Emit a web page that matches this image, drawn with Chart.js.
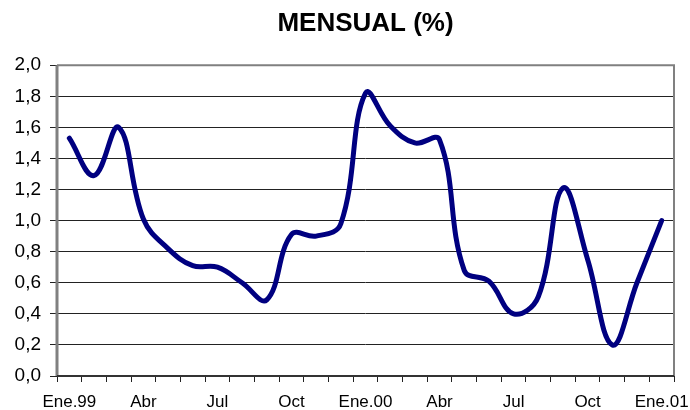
<!DOCTYPE html>
<html>
<head>
<meta charset="utf-8">
<script src="https://cdn.jsdelivr.net/npm/chart.js@4/dist/chart.umd.min.js"></script>
<style>
html,body{margin:0;padding:0;background:#fff;}
#wrap{width:690px;height:410px;}
</style>
</head>
<body>
<div id="wrap"><canvas id="c" width="690" height="410"></canvas></div>
<script>
const months = ['Ene.99','Feb','Mar','Abr','May','Jun','Jul','Ago','Sep','Oct','Nov','Dic',
                'Ene.00','Feb','Mar','Abr','May','Jun','Jul','Ago','Sep','Oct','Nov','Dic','Ene.01'];
const mensual = [1.53,1.29,1.60,1.01,0.82,0.71,0.70,0.60,0.49,0.91,0.90,0.98,
                 1.82,1.61,1.50,1.52,0.68,0.61,0.40,0.51,1.21,0.75,0.20,0.60,1.00];
const titleText = 'MENSUAL (%)';

const borderPlugin = {
  id: 'plotBorder',
  afterDatasetsDraw(chart) {
    const {ctx, chartArea: a} = chart;
    ctx.save();
    ctx.strokeStyle = '#808080';
    ctx.lineWidth = 2;
    ctx.beginPath();
    ctx.moveTo(a.left, a.top);
    ctx.lineTo(a.right, a.top);
    ctx.lineTo(a.right, a.bottom);
    ctx.stroke();
    ctx.lineWidth = 3;
    ctx.beginPath();
    ctx.moveTo(a.left, a.top);
    ctx.lineTo(a.left, a.bottom);
    ctx.stroke();
    ctx.strokeStyle = '#333';
    ctx.lineWidth = 2;
    ctx.beginPath();
    ctx.moveTo(a.left, a.bottom);
    ctx.lineTo(a.right, a.bottom);
    ctx.stroke();
    ctx.restore();
  }
};

new Chart(document.getElementById('c'), {
  type: 'line',
  data: {
    labels: months,
    datasets: [{
      data: mensual,
      borderColor: '#000080',
      borderWidth: 5,
      borderCapStyle: 'round',
      borderJoinStyle: 'round',
      pointRadius: 0,
      tension: 0.4,
      fill: false
    }]
  },
  options: {
    responsive: false,
    animation: false,
    devicePixelRatio: 1,
    layout: { padding: { left: 0, right: 16, top: 0, bottom: 0 } },
    plugins: {
      legend: { display: false },
      tooltip: { enabled: false },
      title: {
        display: true,
        text: titleText,
        fullSize: false,
        color: '#000',
        font: { family: 'Liberation Sans, Arial, sans-serif', size: 26, weight: 'bold', lineHeight: 1.2 },
        padding: { top: 8, bottom: 26 }
      }
    },
    scales: {
      x: {
        offset: true,
        grid: { display: true, drawOnChartArea: false, drawTicks: true, tickLength: 6, offset: true, color: '#222', lineWidth: 1 },
        border: { display: false },
        ticks: {
          autoSkip: false,
          maxRotation: 0,
          padding: 10,
          color: '#000',
          font: { family: 'Liberation Sans, Arial, sans-serif', size: 17 },
          callback: (v, i) => (i % 3 === 0 ? months[i] : '')
        },
        afterFit: (s) => { s.height = 34; s.paddingRight = 0; s.paddingLeft = 0; }
      },
      y: {
        min: 0,
        max: 2,
        grid: { color: '#222', lineWidth: 1, tickLength: 7, drawTicks: true },
        border: { display: false },
        ticks: {
          stepSize: 0.2,
          padding: 9,
          color: '#000',
          font: { family: 'Liberation Sans, Arial, sans-serif', size: 19 },
          callback: (v) => v.toFixed(1).replace('.', ',')
        },
        afterFit: (s) => { s.width = 57; }
      }
    }
  },
  plugins: [borderPlugin]
});
</script>
</body>
</html>
